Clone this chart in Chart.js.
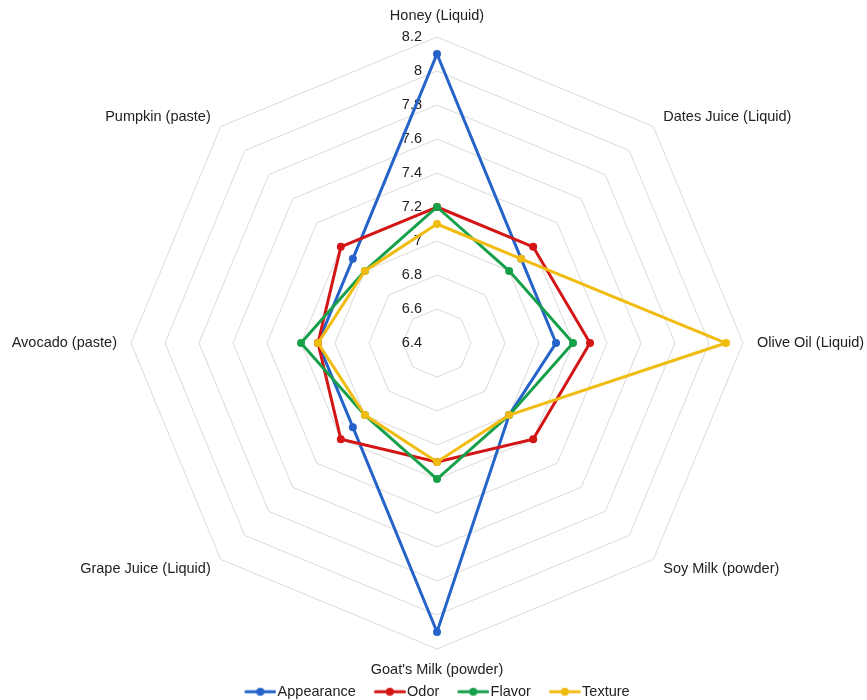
<!DOCTYPE html>
<html>
<head>
<meta charset="utf-8">
<script src="https://cdn.jsdelivr.net/npm/chart.js@4.4.1/dist/chart.umd.min.js"></script>
<style>
  html, body { margin: 0; padding: 0; background: #fff; }
  #wrap { width: 867px; height: 700px; }
</style>
</head>
<body>
<div id="wrap"><canvas id="radarChart"></canvas></div>
<script>
const categories = ['Honey (Liquid)', 'Dates Juice (Liquid)', 'Olive Oil (Liquid)', 'Soy Milk (powder)',
    "Goat's Milk (powder)", 'Grape Juice (Liquid)', 'Avocado (paste)', 'Pumpkin (paste)'];
const appearance = [8.1, 7.1, 7.1, 7.0, 8.1, 7.1, 7.1, 7.1];
const odor = [7.2, 7.2, 7.3, 7.2, 7.1, 7.2, 7.1, 7.2];
const flavor = [7.2, 7.0, 7.2, 7.0, 7.2, 7.0, 7.2, 7.0];
const texture = [7.1, 7.1, 8.1, 7.0, 7.1, 7.0, 7.1, 7.0];
const seriesNames = ['Appearance', 'Odor', 'Flavor', 'Texture'];
const seriesColors = ['#2563c9', '#d41515', '#16a04a', '#f1bc12'];
const scaleMin = 6.4;
const scaleMax = 8.2;
const scaleStep = 0.2;

const FONT = '"Liberation Sans", Arial, sans-serif';
const TEXT_COLOR = '#222';

// small line + dot used as legend symbol
function legendMarker(color) {
    const c = document.createElement('canvas');
    c.width = 38;
    c.height = 12;
    const g = c.getContext('2d');
    g.strokeStyle = color;
    g.lineWidth = 3;
    g.lineCap = 'round';
    g.beginPath();
    g.moveTo(7.5, 6);
    g.lineTo(36.5, 6);
    g.stroke();
    g.fillStyle = color;
    g.beginPath();
    g.arc(22, 6, 4, 0, Math.PI * 2);
    g.fill();
    return c;
}
const legendMarkers = seriesColors.map(legendMarker);

// tick values and category names, drawn under the lines
const radarLabels = {
    id: 'radarLabels',
    beforeDatasetsDraw(chart) {
        const scale = chart.scales.r;
        const ctx = chart.ctx;
        ctx.save();
        ctx.fillStyle = TEXT_COLOR;
        ctx.font = '14.5px ' + FONT;

        ctx.textAlign = 'right';
        ctx.textBaseline = 'middle';
        scale.ticks.forEach(t => {
            const d = scale.getDistanceFromCenterForValue(t.value);
            ctx.fillText(t.label, scale.xCenter - 15, scale.yCenter - d);
        });

        chart.data.labels.forEach((label, i) => {
            const p = scale.getPointPosition(i, scale.drawingArea + 14);
            const dx = p.x - scale.xCenter;
            const dy = p.y - scale.yCenter;
            ctx.textAlign = Math.abs(dx) < 1 ? 'center' : (dx > 0 ? 'left' : 'right');
            ctx.textBaseline = Math.abs(dx) >= 1 ? 'middle' : (dy < 0 ? 'bottom' : 'top');
            ctx.fillText(label, p.x, p.y);
        });
        ctx.restore();
    }
};

const seriesData = [appearance, odor, flavor, texture];
const datasets = seriesNames.map((name, i) => ({
    label: name,
    data: seriesData[i],
    borderColor: seriesColors[i],
    backgroundColor: seriesColors[i],
    pointBackgroundColor: seriesColors[i],
    borderWidth: 3,
    pointRadius: 4,
    pointBorderWidth: 0,
    fill: false,
    order: seriesNames.length - i   // later series on top
}));

new Chart(document.getElementById('radarChart'), {
    type: 'radar',
    data: { labels: categories, datasets: datasets },
    options: {
        responsive: true,
        maintainAspectRatio: false,
        animation: false,
        layout: {
            autoPadding: false,
            padding: { top: 20, bottom: -9, left: 131, right: 124 }
        },
        scales: {
            r: {
                min: scaleMin,
                max: scaleMax,
                ticks: {
                    display: false,
                    stepSize: scaleStep,
                    callback: v => String(parseFloat(v.toFixed(1)))
                },
                grid: { color: '#d9d9d9', lineWidth: 1 },
                angleLines: { display: false },
                pointLabels: { display: false }
            }
        },
        plugins: {
            tooltip: { enabled: false },
            legend: {
                position: 'bottom',
                labels: {
                    usePointStyle: true,
                    pointStyleWidth: 26,
                    padding: 18,
                    color: TEXT_COLOR,
                    font: { size: 14.5, family: FONT },
                    generateLabels: chart => chart.data.datasets.map((ds, i) => ({
                        text: ds.label,
                        datasetIndex: i,
                        pointStyle: legendMarkers[i],
                        fillStyle: ds.borderColor,
                        strokeStyle: ds.borderColor,
                        lineWidth: 0,
                        fontColor: TEXT_COLOR,
                        hidden: !chart.isDatasetVisible(i)
                    }))
                }
            }
        }
    },
    plugins: [radarLabels]
});
</script>
</body>
</html>
